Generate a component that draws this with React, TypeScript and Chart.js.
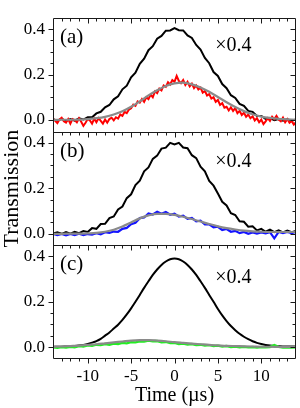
import React, { useEffect, useRef } from "react";
import { Chart, registerables } from "chart.js";

Chart.register(...registerables);

const FONT = '"Liberation Serif", "DejaVu Serif", serif';

// time axes (µs)
const TIME_UNIT = [-14, -13, -12, -11, -10, -9, -8, -7, -6, -5, -4, -3, -2, -1, 0, 1, 2, 3, 4, 5, 6, 7, 8, 9, 10, 11, 12, 13, 14];
const TIME_HALF = [
  -14, -13.5, -13, -12.5, -12, -11.5, -11, -10.5, -10,
  -9.5, -9, -8.5, -8, -7.5, -7, -6.5, -6, -5.5, -5,
  -4.5, -4, -3.5, -3, -2.5, -2, -1.5, -1, -0.5, 0,
  0.5, 1, 1.5, 2, 2.5, 3, 3.5, 4, 4.5, 5,
  5.5, 6, 6.5, 7, 7.5, 8, 8.5, 9, 9.5, 10,
  10.5, 11, 11.5, 12, 12.5, 13, 13.5, 14,
];
const TIME_QUARTER = [
  -14, -13.75, -13.5, -13.25,
  -13, -12.75, -12.5, -12.25,
  -12, -11.75, -11.5, -11.25,
  -11, -10.75, -10.5, -10.25,
  -10, -9.75, -9.5, -9.25,
  -9, -8.75, -8.5, -8.25,
  -8, -7.75, -7.5, -7.25,
  -7, -6.75, -6.5, -6.25,
  -6, -5.75, -5.5, -5.25,
  -5, -4.75, -4.5, -4.25,
  -4, -3.75, -3.5, -3.25,
  -3, -2.75, -2.5, -2.25,
  -2, -1.75, -1.5, -1.25,
  -1, -0.75, -0.5, -0.25,
  0, 0.25, 0.5, 0.75,
  1, 1.25, 1.5, 1.75,
  2, 2.25, 2.5, 2.75,
  3, 3.25, 3.5, 3.75,
  4, 4.25, 4.5, 4.75,
  5, 5.25, 5.5, 5.75,
  6, 6.25, 6.5, 6.75,
  7, 7.25, 7.5, 7.75,
  8, 8.25, 8.5, 8.75,
  9, 9.25, 9.5, 9.75,
  10, 10.25, 10.5, 10.75,
  11, 11.25, 11.5, 11.75,
  12, 12.25, 12.5, 12.75,
  13, 13.25, 13.5, 13.75,
  14,
];

// panel (a)
const BLACK_A = [
  0.003, -0.003, 0.005, -0.004, 0.004, -0.003, 0.007, 0.002, 0.012,
  0.012, 0.029, 0.036, 0.056, 0.066, 0.091, 0.104, 0.135, 0.151, 0.188,
  0.208, 0.247, 0.270, 0.307, 0.325, 0.358, 0.370, 0.393, 0.394, 0.404,
  0.395, 0.394, 0.372, 0.361, 0.330, 0.310, 0.273, 0.250, 0.211, 0.194,
  0.158, 0.140, 0.109, 0.097, 0.071, 0.062, 0.040, 0.036, 0.018, 0.018,
  0.005, 0.008, -0.001, 0.004, -0.003, 0.003, -0.003, 0.002,
];
const RED_A = [
  0.006, -0.004, -0.014, 0.002,
  0.010, -0.006, -0.012, 0.004,
  -0.016, 0.004, 0.000, -0.010,
  0.008, -0.008, -0.026, -0.012,
  0.004, -0.002, -0.016, 0.006,
  -0.010, 0.008, -0.004, -0.016,
  0.002, -0.012, 0.004, 0.010,
  -0.002, 0.012, 0.006, 0.024,
  0.018, 0.036, 0.030, 0.046,
  0.052, 0.068, 0.062, 0.082,
  0.076, 0.092, 0.080, 0.100,
  0.092, 0.112, 0.100, 0.126,
  0.118, 0.138, 0.130, 0.152,
  0.146, 0.166, 0.156, 0.176,
  0.168, 0.194, 0.172, 0.162,
  0.176, 0.154, 0.168, 0.148,
  0.160, 0.140, 0.152, 0.134,
  0.142, 0.120, 0.128, 0.108,
  0.114, 0.094, 0.100, 0.080,
  0.088, 0.066, 0.074, 0.054,
  0.058, 0.042, 0.056, 0.040,
  0.052, 0.030, 0.040, 0.022,
  0.032, 0.014, 0.024, 0.008,
  0.016, -0.002, 0.008, -0.010,
  0.002, -0.018, -0.006, 0.008,
  -0.004, 0.014, 0.004, 0.018,
  0.002, -0.006, 0.010, -0.010,
  0.004, -0.012, -0.004, -0.020,
  -0.010,
];
const FIT_A = [
  0.000, 0.001, 0.001, 0.002, 0.004, 0.008, 0.014, 0.024, 0.038, 0.058, 0.082, 0.108, 0.131, 0.150, 0.161,
  0.164, 0.157, 0.143, 0.124, 0.101, 0.078, 0.057, 0.039, 0.025, 0.015, 0.009, 0.005, 0.003, 0.001,
];

// panel (b)
const BLACK_B = [
  0.000, 0.006, -0.001, 0.007, 0.000, 0.008, 0.002, 0.011, 0.007,
  0.024, 0.021, 0.042, 0.043, 0.068, 0.075, 0.106, 0.119, 0.156, 0.173,
  0.214, 0.233, 0.274, 0.291, 0.329, 0.343, 0.374, 0.378, 0.399, 0.392,
  0.399, 0.379, 0.376, 0.345, 0.332, 0.294, 0.274, 0.232, 0.211, 0.176,
  0.140, 0.124, 0.090, 0.082, 0.054, 0.052, 0.030, 0.032, 0.014, 0.021,
  0.008, 0.017, 0.006, 0.014, 0.005, 0.013, 0.006, 0.012,
];
const BLUE_B = [
  -0.001, -0.007, -0.002, -0.008, -0.002, -0.007, -0.001, -0.007, -0.002,
  -0.005, 0.002, -0.003, 0.006, 0.003, 0.009, 0.008, 0.021, 0.025, 0.041,
  0.047, 0.068, 0.071, 0.089, 0.084, 0.096, 0.087, 0.095, 0.083, 0.088,
  0.075, 0.079, 0.065, 0.069, 0.054, 0.057, 0.040, 0.041, 0.027, 0.030,
  0.016, 0.020, 0.008, 0.012, 0.002, 0.007, -0.001, 0.005, 0.000, 0.005,
  0.001, 0.006, -0.021, 0.007, 0.002, 0.007, 0.002, 0.008,
];
const FIT_B = [
  -0.001, -0.001, 0.000, 0.000, 0.001, 0.003, 0.008, 0.017, 0.031, 0.049, 0.067, 0.080, 0.087, 0.087, 0.082,
  0.074, 0.064, 0.053, 0.042, 0.032, 0.024, 0.018, 0.013, 0.010, 0.008, 0.007, 0.007, 0.007, 0.007,
];

// panel (c)
const BLACK_C = [
  0.001, 0.002, 0.002, 0.003, 0.004, 0.005, 0.007, 0.010, 0.014,
  0.020, 0.027, 0.037, 0.051, 0.065, 0.082, 0.099, 0.120, 0.144, 0.171,
  0.200, 0.230, 0.261, 0.290, 0.318, 0.342, 0.362, 0.377, 0.387, 0.390,
  0.387, 0.377, 0.362, 0.342, 0.318, 0.290, 0.261, 0.230, 0.200, 0.168,
  0.140, 0.115, 0.093, 0.075, 0.059, 0.046, 0.035, 0.026, 0.019, 0.014,
  0.010, 0.007, 0.005, 0.004, 0.003, 0.003, 0.003, 0.003,
];
const GREEN_C = [
  0.000, -0.003, 0.001, -0.002, 0.002, 0.000, 0.005, 0.003, 0.008,
  0.006, 0.011, 0.009, 0.014, 0.011, 0.016, 0.014, 0.019, 0.017, 0.022,
  0.021, 0.026, 0.025, 0.029, 0.026, 0.027, 0.022, 0.023, 0.018, 0.019,
  0.014, 0.016, 0.012, 0.014, 0.009, 0.011, 0.007, 0.009, 0.005, 0.007,
  0.003, 0.005, 0.001, 0.003, 0.000, 0.002, -0.001, 0.001, -0.002, 0.001,
  -0.001, 0.001, 0.009, 0.001, -0.002, 0.000, -0.002, 0.000,
];
const FIT_C = [
  0.002, 0.003, 0.005, 0.007, 0.010, 0.013, 0.017, 0.021, 0.025, 0.029, 0.031, 0.031, 0.029, 0.026, 0.022,
  0.019, 0.016, 0.013, 0.010, 0.008, 0.006, 0.005, 0.004, 0.003, 0.002, 0.002, 0.001, 0.001, 0.001,
];

const PANEL_LABELS = ["(a)", "(b)", "(c)"];
const SCALE_NOTE = "\u00d70.4";
const X_TITLE = "Time (\u00b5s)";
const Y_TITLE = "Transmission";

const PANEL_IDS = ["yA", "yB", "yC"];
const NOTE_Y = [0.325, 0.314, 0.307];

function series(times: number[], values: number[]) {
  return values.map((v, i) => ({ x: times[i], y: v }));
}

const framePlugin = {
  id: "panelFrame",
  afterDatasetsDraw(chart: any) {
    const ctx = chart.ctx;
    const xs = chart.scales.x;
    const left = Math.round(xs.left) + 0.5;
    const right = Math.round(xs.right) - 0.5;
    const seg = (x1: number, y1: number, x2: number, y2: number) => {
      ctx.beginPath();
      ctx.moveTo(x1, y1);
      ctx.lineTo(x2, y2);
      ctx.stroke();
    };
    ctx.save();
    ctx.strokeStyle = "#1a1a1a";
    ctx.lineWidth = 1;
    const first = chart.scales[PANEL_IDS[0]];
    const last = chart.scales[PANEL_IDS[PANEL_IDS.length - 1]];
    const top0 = Math.round(first.top) + 0.5;
    const bottomEnd = Math.round(last.bottom) - 0.5;
    seg(left, top0, left, bottomEnd);
    seg(right, top0, right, bottomEnd);
    PANEL_IDS.forEach((id) => {
      const s = chart.scales[id];
      const top = Math.round(s.top) + 0.5;
      seg(left, top, right, top);
      for (let k = -1; k <= 9; k++) {
        const v = k * 0.05;
        const py = s.getPixelForValue(v);
        if (py < s.top + 2 || py > s.bottom - 2) continue;
        const y = Math.round(py) + 0.5;
        const len = k % 4 === 0 ? 5 : 3;
        seg(left - len, y, left, y);
        seg(right - len, y, right, y);
      }
      for (let t = -14; t <= 14; t++) {
        const px = xs.getPixelForValue(t);
        if (px < xs.left + 2 || px > xs.right - 2) continue;
        const x = Math.round(px) + 0.5;
        const len = t % 5 === 0 ? 5 : 3;
        seg(x, top, x, top + len);
      }
    });
    seg(left, bottomEnd, right, bottomEnd);
    for (let t = -14; t <= 14; t++) {
      const px = xs.getPixelForValue(t);
      if (px < xs.left + 2 || px > xs.right - 2) continue;
      const x = Math.round(px) + 0.5;
      const len = t % 5 === 0 ? 5 : 3;
      seg(x, bottomEnd, x, bottomEnd + len);
    }
    ctx.restore();
  },
  afterDraw(chart: any) {
    const ctx = chart.ctx;
    const xs = chart.scales.x;
    ctx.save();
    ctx.fillStyle = "#000";
    ctx.textBaseline = "middle";
    ctx.textAlign = "left";
    PANEL_IDS.forEach((id, i) => {
      const s = chart.scales[id];
      ctx.font = `21px ${FONT}`;
      ctx.fillText(PANEL_LABELS[i], xs.getPixelForValue(-13.2), s.getPixelForValue(0.362));
      ctx.font = `20px ${FONT}`;
      ctx.fillText(SCALE_NOTE, xs.getPixelForValue(4.7), s.getPixelForValue(NOTE_Y[i]));
    });
    ctx.restore();
  },
};

function yScale(title: boolean) {
  return {
    type: "linear",
    position: "left",
    stack: "panels",
    stackWeight: 1,
    min: -0.052,
    max: 0.448,
    ticks: {
      stepSize: 0.2,
      includeBounds: false,
      padding: 8,
      color: "#000",
      font: { family: FONT, size: 17 },
      callback: (v: any) => Number(v).toFixed(1),
    },
    grid: { display: false, drawTicks: false },
    border: { display: false },
    title: {
      display: title,
      text: Y_TITLE,
      color: "#000",
      font: { family: FONT, size: 22 },
      padding: { top: -1, bottom: 0 },
    },
    afterFit: (s: any) => {
      s.width = 53;
    },
  };
}

function lineSet(times: number[], values: number[], axis: string, color: string, width: number, order: number, smooth: boolean) {
  return {
    data: series(times, values),
    yAxisID: axis,
    borderColor: color,
    backgroundColor: color,
    borderWidth: width,
    order,
    pointRadius: 0,
    fill: false,
    tension: smooth ? 0.4 : 0,
    cubicInterpolationMode: smooth ? "monotone" : "default",
  };
}

export default function App() {
  const ref = useRef<HTMLCanvasElement | null>(null);
  useEffect(() => {
    if (!ref.current) return;
    const chart = new Chart(ref.current, {
      type: "line",
      data: {
        datasets: [
          lineSet(TIME_UNIT, FIT_A, "yA", "#8a8a8a", 2.2, 0, true),
          lineSet(TIME_UNIT, FIT_B, "yB", "#8a8a8a", 2.2, 0, true),
          lineSet(TIME_UNIT, FIT_C, "yC", "#8a8a8a", 2.2, 0, true),
          lineSet(TIME_QUARTER, RED_A, "yA", "#ff0000", 2, 1, false),
          lineSet(TIME_HALF, BLUE_B, "yB", "#1414ff", 2.2, 1, false),
          lineSet(TIME_HALF, GREEN_C, "yC", "#22ee22", 2.4, 1, false),
          lineSet(TIME_HALF, BLACK_A, "yA", "#000000", 2, 2, false),
          lineSet(TIME_HALF, BLACK_B, "yB", "#000000", 2, 2, false),
          lineSet(TIME_HALF, BLACK_C, "yC", "#000000", 2, 2, true),
        ] as any,
      },
      options: {
        animation: false,
        responsive: false,
        layout: { padding: { top: 2, right: 4, left: 0, bottom: 0 } },
        plugins: { legend: { display: false }, tooltip: { enabled: false } },
        elements: { point: { radius: 0 } },
        scales: {
          x: {
            type: "linear",
            min: -14,
            max: 14,
            ticks: {
              stepSize: 5,
              includeBounds: false,
              padding: 7,
              maxRotation: 0,
              color: "#000",
              font: { family: FONT, size: 17 },
            },
            grid: { display: false, drawTicks: false },
            border: { display: false },
            title: {
              display: true,
              text: X_TITLE,
              color: "#000",
              font: { family: FONT, size: 20 },
              padding: { top: 0, bottom: 0 },
            },
            afterFit: (s: any) => {
              s.height = 49;
            },
          },
          yC: yScale(false),
          yB: yScale(true),
          yA: yScale(false),
        } as any,
      },
      plugins: [framePlugin],
    });
    return () => chart.destroy();
  }, []);
  return (
    <div style={{ position: "fixed", left: 0, top: 0, width: 300, height: 408, background: "#fff" }}>
      <canvas ref={ref} width={300} height={408} style={{ width: 300, height: 408, display: "block" }} />
    </div>
  );
}
